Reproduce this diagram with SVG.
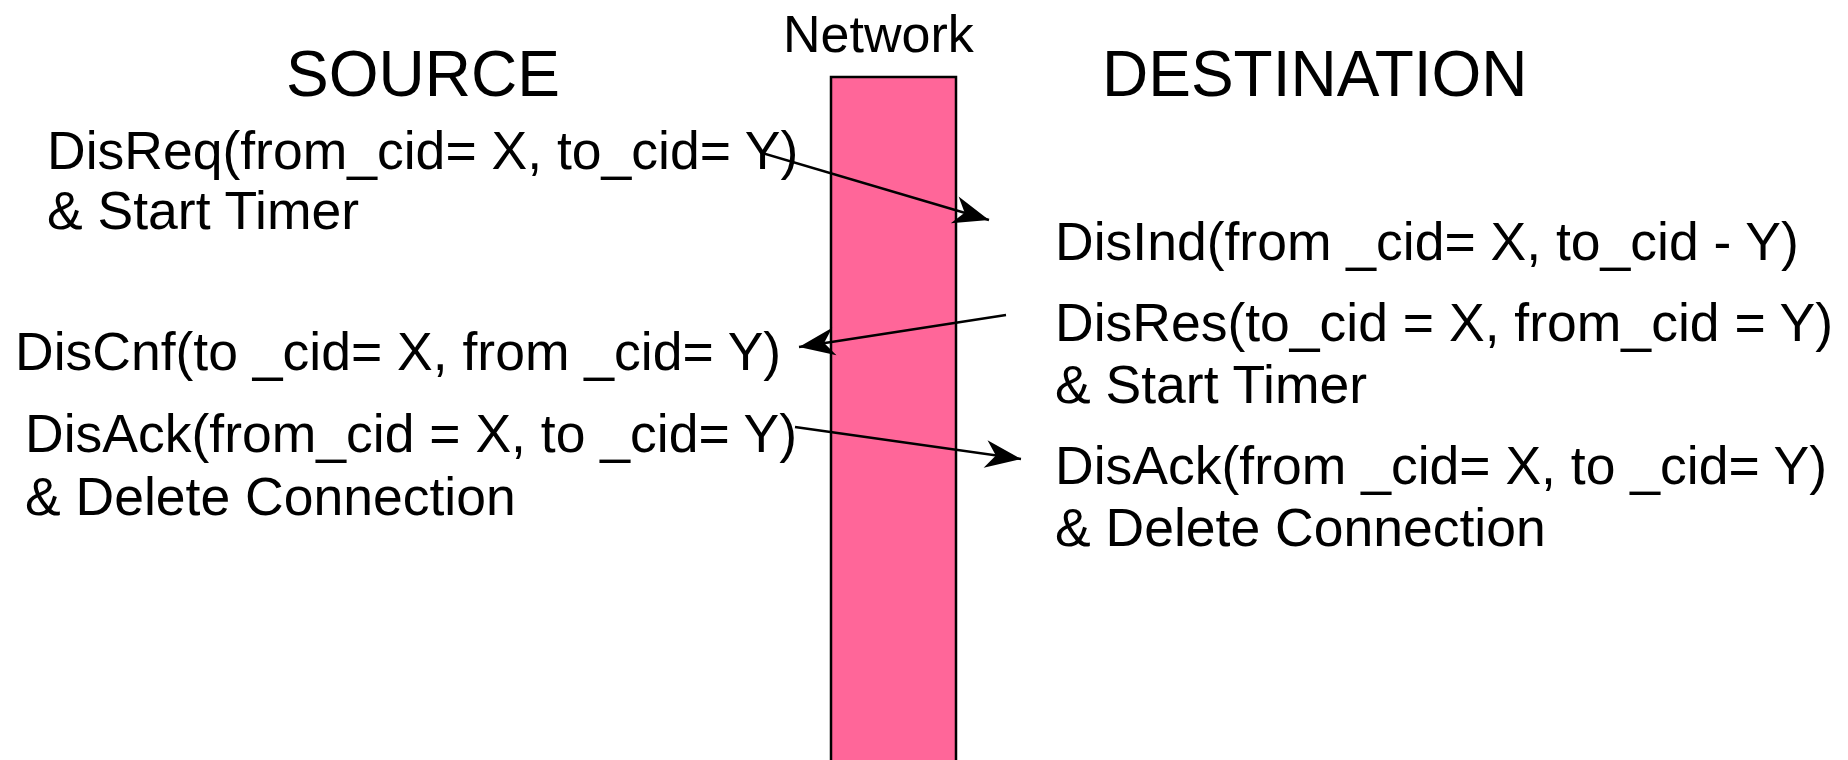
<svg xmlns="http://www.w3.org/2000/svg" width="1848" height="760" viewBox="0 0 1848 760">
  <style>
    text { font-family: "Liberation Sans", Arial, sans-serif; fill: #000; }
    .title { font-size: 64px; }
    .net { font-size: 52px; }
    .msg { font-size: 53.5px; }
    .conn { stroke: #000; stroke-width: 2.5; fill: none; marker-end: url(#arrow); }
  </style>
  <defs>
    <marker id="arrow" markerUnits="userSpaceOnUse" markerWidth="40" markerHeight="30" viewBox="-32 -13 34 26" refX="0" refY="0" orient="auto">
      <path d="M0,0 L-31,-12 L-22,0 L-31,12 Z" fill="#000"/>
    </marker>
  </defs>

  <rect width="1848" height="760" fill="#fff"/>

  <!-- network column -->
  <g id="network">
    <rect x="831" y="77" width="125" height="700" fill="#FF6699" stroke="#000" stroke-width="2.5"/>
    <text class="net" x="783" y="52">Network</text>
  </g>

  <g id="source">
    <text class="title" x="286" y="96">SOURCE</text>
  </g>
  <g id="destination">
    <text class="title" x="1102" y="96">DESTINATION</text>
  </g>

  <g id="dis-req">
    <text class="msg" x="47" y="169">DisReq(from_cid= X, to_cid= Y)</text>
    <text class="msg" x="47" y="229">&amp; Start Timer</text>
  </g>
  <g id="dis-ind">
    <text class="msg" x="1055" y="260">DisInd(from _cid= X, to_cid - Y)</text>
  </g>
  <g id="dis-res">
    <text class="msg" x="1055" y="341">DisRes(to_cid = X, from_cid = Y)</text>
    <text class="msg" x="1055" y="403">&amp; Start Timer</text>
  </g>
  <g id="dis-cnf">
    <text class="msg" x="15" y="370">DisCnf(to _cid= X, from _cid= Y)</text>
  </g>
  <g id="dis-ack-src">
    <text class="msg" x="25" y="452">DisAck(from_cid = X, to _cid= Y)</text>
    <text class="msg" x="25" y="515">&amp; Delete Connection</text>
  </g>
  <g id="dis-ack-dst">
    <text class="msg" x="1055" y="484">DisAck(from _cid= X, to _cid= Y)</text>
    <text class="msg" x="1055" y="546">&amp; Delete Connection</text>
  </g>

  <!-- message arrows -->
  <g id="connectors">
    <line class="conn" x1="762" y1="153" x2="989" y2="220"/>
    <line class="conn" x1="1006" y1="315" x2="799" y2="347"/>
    <line class="conn" x1="795" y1="427" x2="1021" y2="459"/>
  </g>
</svg>
